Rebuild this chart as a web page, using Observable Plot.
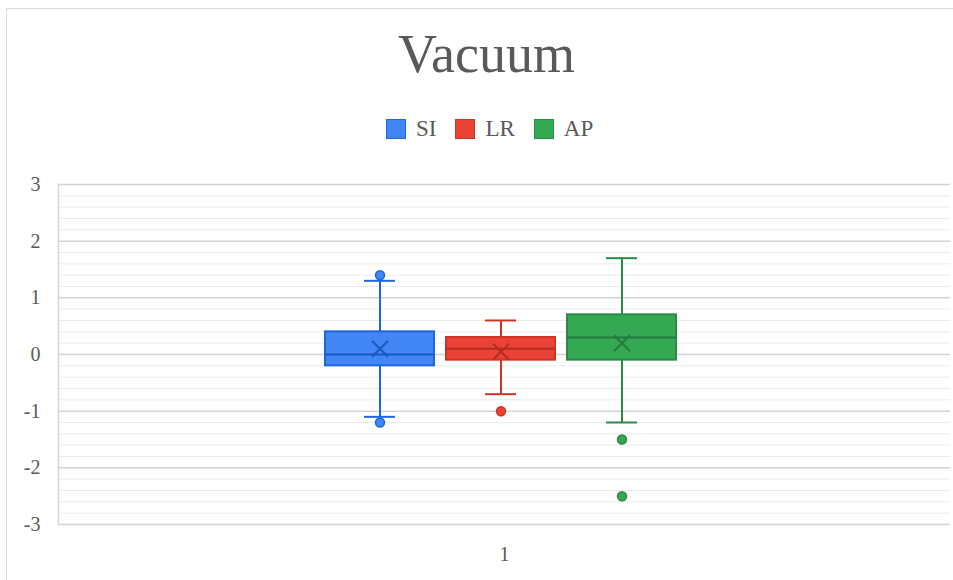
<!DOCTYPE html>
<html>
<head>
<meta charset="utf-8">
<script src="https://cdn.jsdelivr.net/npm/d3@7"></script>
<script src="https://cdn.jsdelivr.net/npm/@observablehq/plot@0.6"></script>
<style>
  html, body { margin: 0; padding: 0; background: #fff; }
  #wrap { position: relative; width: 953px; height: 580px; overflow: hidden; font-family: "Liberation Serif", "DejaVu Serif", serif; }
  #frame { position: absolute; left: 6px; top: 8px; width: 960px; height: 580px; border-left: 1.5px solid #d9d9d9; border-top: 1.5px solid #d9d9d9; box-sizing: border-box; }
  #title { position: absolute; left: 0; top: 22px; width: 973px; text-align: center; font-size: 54px; color: #595959; line-height: 64px; }
  #legend { position: absolute; left: 386px; top: 116px; display: flex; align-items: center; font-size: 23px; color: #595959; }
  .item { display: flex; align-items: center; margin-right: 19px; }
  .sw { width: 18px; height: 18px; border: 1.5px solid; margin-right: 10px; }
  #chart { position: absolute; left: 0; top: 150px; }
</style>
</head>
<body>
<div id="wrap">
  <div id="frame"></div>
  <div id="title">Vacuum</div>
  <div id="legend"></div>
  <div id="chart"></div>
</div>
<script>
const series = ["SI", "LR", "AP"];
const category = "1";
const q1 = [-0.2, -0.1, -0.1];
const median = [0.0, 0.1, 0.3];
const q3 = [0.4, 0.3, 0.7];
const whiskerLow = [-1.1, -0.7, -1.2];
const whiskerHigh = [1.3, 0.6, 1.7];
const mean = [0.1, 0.05, 0.2];
const outlierSeries = ["SI", "SI", "LR", "AP", "AP"];
const outlierValues = [1.4, -1.2, -1.0, -1.5, -2.5];
const yTicks = [-3, -2, -1, 0, 1, 2, 3];

const fills = {SI: "#4285F4", LR: "#EA4335", AP: "#34A853"};
const strokes = {SI: "#1f66dc", LR: "#cf3327", AP: "#2a8a46"};
const markStrokes = {SI: "#1a57bf", LR: "#b52b21", AP: "#227a3c"};

const boxes = series.map((s, i) => ({
  cat: category, s, q1: q1[i], med: median[i], q3: q3[i],
  lo: whiskerLow[i], hi: whiskerHigh[i], mean: mean[i]
}));
const outliers = outlierSeries.map((s, i) => ({cat: category, s, v: outlierValues[i]}));
const minor = d3.range(-3, 3.0001, 0.2).map(v => +v.toFixed(1)).filter(v => !Number.isInteger(v));

// legend
const legend = document.getElementById("legend");
series.forEach(s => {
  const it = document.createElement("div");
  it.className = "item";
  it.innerHTML = `<div class="sw" style="background:${fills[s]};border-color:${strokes[s]}"></div><span>${s}</span>`;
  legend.appendChild(it);
});

const chart = Plot.plot({
  width: 953,
  height: 430,
  marginLeft: 58,
  marginRight: 3,
  marginTop: 34,
  marginBottom: 56,
  style: {fontFamily: "Liberation Serif, serif", fontSize: "20px", color: "#595959", background: "transparent"},
  fx: {domain: [category], padding: 0, label: null, axis: "bottom", tickSize: 0, tickPadding: 22},
  x: {domain: series, paddingInner: 0.0984, paddingOuter: 2.205, align: 0.4935, axis: null},
  y: {domain: [-3, 3], ticks: yTicks, tickSize: 0, tickPadding: 18, label: null, tickFormat: d => String(d)},
  marks: [
    Plot.ruleY(minor, {stroke: "#ebebeb", strokeWidth: 1}),
    Plot.ruleY(yTicks, {stroke: "#d4d4d4", strokeWidth: 1.5}),
    Plot.frame({anchor: "left", stroke: "#d6d6d6", strokeWidth: 1.5}),
    Plot.ruleX(boxes, {fx: "cat", x: "s", y1: "lo", y2: "q1", stroke: d => strokes[d.s], strokeWidth: 2}),
    Plot.ruleX(boxes, {fx: "cat", x: "s", y1: "q3", y2: "hi", stroke: d => strokes[d.s], strokeWidth: 2}),
    Plot.tickY(boxes, {fx: "cat", x: "s", y: "lo", stroke: d => strokes[d.s], strokeWidth: 2, insetLeft: 39, insetRight: 39}),
    Plot.tickY(boxes, {fx: "cat", x: "s", y: "hi", stroke: d => strokes[d.s], strokeWidth: 2, insetLeft: 39, insetRight: 39}),
    Plot.barY(boxes, {fx: "cat", x: "s", y1: "q1", y2: "q3", fill: d => fills[d.s], stroke: d => strokes[d.s], strokeWidth: 2}),
    Plot.tickY(boxes, {fx: "cat", x: "s", y: "med", stroke: d => markStrokes[d.s], strokeWidth: 2}),
    Plot.dot(boxes, {fx: "cat", x: "s", y: "mean", symbol: "times", r: 7.3, stroke: d => markStrokes[d.s], strokeWidth: 2}),
    Plot.dot(outliers, {fx: "cat", x: "s", y: "v", r: 4.5, fill: d => fills[d.s], stroke: d => strokes[d.s], strokeWidth: 1.5})
  ]
});
document.getElementById("chart").appendChild(chart);
</script>
</body>
</html>
